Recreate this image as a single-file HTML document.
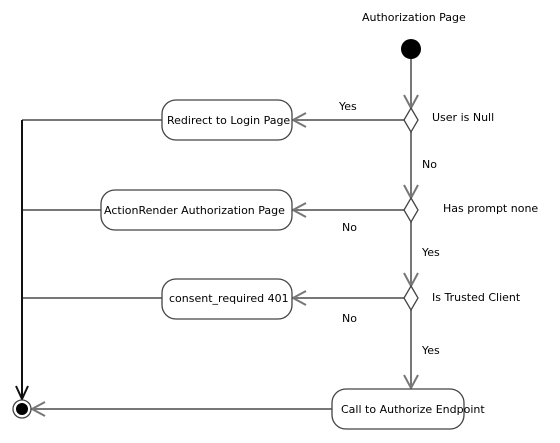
<!DOCTYPE html>
<html><head><style>html,body{margin:0;padding:0;background:#fff}svg{display:block}text{font-family:"DejaVu Sans",sans-serif;font-size:11px;fill:#000}</style></head><body>
<svg width="560" height="443" viewBox="0 0 560 443">
<g stroke="#777" stroke-width="2" fill="none">
<line x1="411" y1="58" x2="411" y2="108"/>
<line x1="411" y1="132" x2="411" y2="198"/>
<line x1="411" y1="222" x2="411" y2="286"/>
<line x1="411" y1="310" x2="411" y2="388"/>
<line x1="404" y1="120" x2="293" y2="120"/>
<line x1="404" y1="210" x2="293" y2="210"/>
<line x1="404" y1="298" x2="293" y2="298"/>
<line x1="162" y1="120" x2="22" y2="120"/>
<line x1="101" y1="210" x2="22" y2="210"/>
<line x1="162" y1="298" x2="22" y2="298"/>
<line x1="332" y1="409" x2="32" y2="409"/>
<polyline points="404,95 411,108 418,95"/>
<polyline points="404,185 411,198 418,185"/>
<polyline points="404,273 411,286 418,273"/>
<polyline points="404,375 411,388 418,375"/>
<polyline points="306,113 293,120 306,127"/>
<polyline points="306,203 293,210 306,217"/>
<polyline points="306,291 293,298 306,305"/>
<polyline points="45,402 32,409 45,416"/>
</g>
<line x1="22" y1="120" x2="22" y2="398" stroke="#111" stroke-width="2"/>
<polyline points="16,386 22,399 28,386" stroke="#111" stroke-width="2" fill="none"/>
<g stroke="#444" stroke-width="1.3" fill="#fff">
<polygon points="411,108 418,120 411,132 404,120"/>
<polygon points="411,198 418,210 411,222 404,210"/>
<polygon points="411,286 418,298 411,310 404,298"/>
<rect x="162" y="100" width="130" height="40" rx="14"/>
<rect x="101" y="190" width="191" height="40" rx="14"/>
<rect x="162" y="279" width="130" height="40" rx="14"/>
<rect x="332" y="389" width="132" height="40" rx="14"/>
<circle cx="22" cy="409" r="9"/>
</g>
<circle cx="411" cy="49" r="10" fill="#000"/>
<circle cx="22" cy="409" r="6" fill="#000"/>
<text x="362" y="21">Authorization Page</text>
<text x="167" y="124">Redirect to Login Page</text>
<text x="104" y="214">ActionRender Authorization Page</text>
<text x="169" y="302">consent_required 401</text>
<text x="341" y="413">Call to Authorize Endpoint</text>
<text x="339" y="110">Yes</text>
<text x="432" y="121">User is Null</text>
<text x="422" y="168">No</text>
<text x="443" y="212">Has prompt none</text>
<text x="342" y="231">No</text>
<text x="422" y="256">Yes</text>
<text x="432" y="301">Is Trusted Client</text>
<text x="342" y="322">No</text>
<text x="422" y="354">Yes</text>
</svg>
</body></html>
